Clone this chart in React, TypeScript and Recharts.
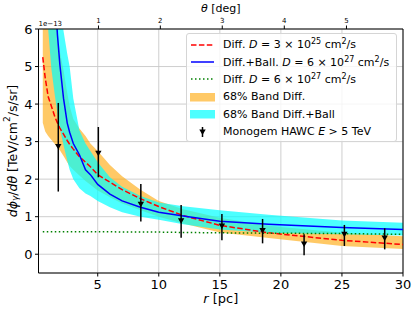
import React from 'react';
import {
  ComposedChart, Area, Line, Scatter, XAxis, YAxis, CartesianGrid,
  ErrorBar, Legend, ReferenceLine,
} from 'recharts';

// radial distance grid of the model curves [pc]
const rPc = [0.5, 0.7, 0.94, 1.2, 1.5, 1.7, 1.9, 2.2, 2.5, 2.7, 3, 3.5, 4, 4.4, 5, 6, 7, 8.5, 10, 12, 15, 19, 25, 30];

// model profiles, in units of 1e-13 TeV/cm2/s/sr
const diffSlow = [5.25, 4.7, 4.2, 3.95, 3.65, 3.5, 3.36, 3.2, 3.03, 2.93, 2.8, 2.6, 2.45, 2.33, 2.12, 1.92, 1.72, 1.48, 1.27, 1.03, 0.77, 0.57, 0.37, 0.26];
const diffBall = [null, null, null, null, 6.9, 5.85, 5.05, 4.15, 3.5, 3.25, 2.95, 2.65, 2.25, 2.12, 1.86, 1.6, 1.42, 1.25, 1.12, 1.02, 0.88, 0.8, 0.71, 0.66];
const diffFast = [0.6, 0.6, 0.6, 0.6, 0.6, 0.6, 0.6, 0.6, 0.6, 0.6, 0.6, 0.6, 0.6, 0.6, 0.6, 0.6, 0.59, 0.59, 0.59, 0.58, 0.57, 0.56, 0.55, 0.53];

// 68% bands
const diffLow = [3.5, 3.27, 3.15, 3.05, 2.93, 2.84, 2.77, 2.62, 2.45, 2.35, 2.25, 2.1, 1.95, 1.85, 1.7, 1.52, 1.35, 1.17, 1.0, 0.82, 0.58, 0.43, 0.22, 0.14];
const diffHigh = [12, 10, 8.5, 7.6, 6.7, 5.95, 5.4, 4.9, 4.3, 3.95, 3.6, 3.35, 3.15, 2.95, 2.75, 2.38, 2.08, 1.72, 1.42, 1.2, 0.97, 0.76, 0.57, 0.48];
const ballLow = [13, 8.5, 6.0, 4.95, 4.2, 3.75, 3.35, 2.9, 2.5, 2.25, 2.0, 1.76, 1.62, 1.55, 1.42, 1.25, 1.12, 1.0, 0.92, 0.8, 0.66, 0.57, 0.53, 0.5];
const ballHigh = [18, 14, 11, 9.5, 8.2, 7.2, 6.6, 5.95, 5.35, 5.0, 4.15, 3.3, 2.95, 2.75, 2.45, 2.05, 1.8, 1.55, 1.38, 1.28, 1.17, 1.05, 0.9, 0.84];

// Monogem HAWC E > 5 TeV
const hawcR = [1.77, 5.05, 8.53, 11.83, 15.17, 18.5, 21.9, 25.2, 28.5];
const hawcFlux = [2.87, 2.69, 1.33, 0.89, 0.75, 0.63, 0.27, 0.53, 0.43];
const hawcErrLow = [1.2, 0.64, 0.46, 0.45, 0.38, 0.34, 0.3, 0.31, 0.3];
const hawcErrHigh = [1.16, 0.7, 0.54, 0.42, 0.32, 0.31, 0.26, 0.25, 0.26];

// axes
const rTicks = [5, 10, 15, 20, 25, 30];
const fluxTicks = [0, 1, 2, 3, 4, 5, 6];
const thetaDeg = [1, 2, 3, 4, 5];
const distancePc = 290;

const FONT = 'DejaVu Sans';

const curveData = rPc.map((r, i) => ({
  r,
  slow: diffSlow[i],
  ball: diffBall[i],
  fast: diffFast[i],
  slowBand: [diffLow[i], diffHigh[i]],
  ballBand: [ballLow[i], ballHigh[i]],
}));

const hawcData = hawcR.map((r, i) => ({
  r,
  flux: hawcFlux[i],
  err: [hawcErrLow[i], hawcErrHigh[i]],
}));

const toR = (deg) => distancePc * Math.tan((deg * Math.PI) / 180);
const toDeg = (r) => Math.round((Math.atan(r / distancePc) * 180) / Math.PI);

// 'v' marker
const DownTri = ({ cx, cy }) => (
  <path d={`M${cx - 3.2},${cy - 2.6} L${cx + 3.2},${cy - 2.6} L${cx},${cy + 3} Z`} fill="#000" />
);

const bottomTitle = ({ viewBox }) => {
  const cx = viewBox.x + viewBox.width / 2;
  return (
    <text x={cx} y={viewBox.y + 30} textAnchor="middle" fontSize={13} fontFamily={FONT} fill="#000">
      <tspan fontStyle="italic">r</tspan> [pc]
    </text>
  );
};

const topTitle = ({ viewBox }) => {
  const cx = viewBox.x + viewBox.width / 2;
  return (
    <text x={cx} y={viewBox.y + 12} textAnchor="middle" fontSize={11} fontFamily={FONT} fill="#000">
      <tspan fontStyle="italic">θ</tspan> [deg]
    </text>
  );
};

const leftTitle = ({ viewBox }) => {
  const cx = viewBox.x + 12;
  const cy = viewBox.y + viewBox.height / 2;
  return (
    <g>
      <text
        x={cx}
        y={cy}
        transform={`rotate(-90 ${cx} ${cy})`}
        textAnchor="middle"
        dominantBaseline="central"
        fontSize={12.5}
        fontFamily={FONT}
        fill="#000"
      >
        <tspan fontStyle="italic">dϕ</tspan>
        <tspan fontStyle="italic" fontSize={9} dy={3}>γ</tspan>
        <tspan dy={-3}>/</tspan>
        <tspan fontStyle="italic">dθ</tspan>
        <tspan>{' [TeV/cm'}</tspan>
        <tspan fontSize={9} dy={-5}>2</tspan>
        <tspan dy={5}>/s/sr]</tspan>
      </text>
      <text x={viewBox.x + viewBox.width} y={viewBox.y - 3} fontSize={7} fontFamily={FONT} fill="#000">
        1e−13
      </text>
    </g>
  );
};

const Sup = ({ children }) => (
  <span style={{ fontSize: 8, verticalAlign: 4, lineHeight: 0 }}>{children}</span>
);

const legendRows = [
  {
    kind: 'dash',
    color: '#ff0000',
    label: <>Diff. <i>D</i> = 3 × 10<Sup>25</Sup> cm<Sup>2</Sup>/s</>,
  },
  {
    kind: 'solid',
    color: '#0000ff',
    label: <>Diff.+Ball. <i>D</i> = 6 × 10<Sup>27</Sup> cm<Sup>2</Sup>/s</>,
  },
  {
    kind: 'dot',
    color: '#008000',
    label: <>Diff. <i>D</i> = 6 × 10<Sup>27</Sup> cm<Sup>2</Sup>/s</>,
  },
  { kind: 'patch', color: 'rgba(255,165,0,0.6)', label: <>68% Band Diff.</> },
  { kind: 'patch', color: 'rgba(0,255,255,0.7)', label: <>68% Band Diff.+Ball</> },
  { kind: 'err', color: '#000', label: <>Monogem HAWC <i>E</i> &gt; 5 TeV</> },
];

const Handle = ({ kind, color }) => (
  <svg width={25} height={14} style={{ display: 'block' }}>
    {kind === 'dash' && <line x1={1} y1={7} x2={24} y2={7} stroke={color} strokeWidth={1.5} strokeDasharray="5.5 2.4" />}
    {kind === 'solid' && <line x1={1} y1={7} x2={24} y2={7} stroke={color} strokeWidth={1.5} />}
    {kind === 'dot' && <line x1={1} y1={7} x2={24} y2={7} stroke={color} strokeWidth={1.5} strokeDasharray="1.5 2.5" />}
    {kind === 'patch' && <rect x={0} y={3} width={25} height={8.5} fill={color} />}
    {kind === 'err' && (
      <g>
        <line x1={12.5} y1={2} x2={12.5} y2={12} stroke="#000" strokeWidth={1.5} />
        <DownTri cx={12.5} cy={7} />
      </g>
    )}
  </svg>
);

const renderLegend = () => (
  <div
    style={{
      boxSizing: 'border-box',
      width: 211,
      height: 109,
      padding: '2px 0 0 3px',
      border: '1px solid #d5d5d5',
      borderRadius: 3,
      background: 'rgba(255,255,255,0.8)',
      fontFamily: FONT,
      fontSize: 11,
      color: '#000',
    }}
  >
    {legendRows.map((row, i) => (
      <div key={i} style={{ display: 'flex', alignItems: 'center', height: 17.4, whiteSpace: 'nowrap' }}>
        <Handle kind={row.kind} color={row.color} />
        <span style={{ marginLeft: 8 }}>{row.label}</span>
      </div>
    ))}
  </div>
);

export default function App() {
  return (
    <div style={{ position: 'absolute', left: 0, top: 0, background: '#fff' }}>
      <ComposedChart
        width={415}
        height={312}
        data={curveData}
        margin={{ top: 0, right: 12, bottom: 0, left: 0 }}
        style={{ fontFamily: FONT }}
      >
        <CartesianGrid xAxisId="b" yAxisId="l" stroke="#c8c8c8" strokeWidth={0.9} />
        <XAxis
          xAxisId="b"
          dataKey="r"
          type="number"
          domain={[0.15, 30]}
          allowDataOverflow
          ticks={rTicks}
          height={39}
          tickSize={3.5}
          tickMargin={3}
          tick={{ fill: '#000', fontSize: 13, fontFamily: FONT }}
          tickLine={{ stroke: '#000' }}
          axisLine={{ stroke: '#000' }}
          label={bottomTitle}
        />
        <XAxis
          xAxisId="t"
          orientation="top"
          dataKey="r"
          type="number"
          domain={[0.15, 30]}
          allowDataOverflow
          ticks={thetaDeg.map(toR)}
          tickFormatter={toDeg}
          height={29}
          tickSize={3.5}
          tickMargin={3}
          tick={{ fill: '#000', fontSize: 7, fontFamily: FONT }}
          tickLine={{ stroke: '#000' }}
          axisLine={{ stroke: '#000' }}
          label={topTitle}
        />
        <YAxis
          yAxisId="l"
          type="number"
          domain={[-0.5, 6]}
          allowDataOverflow
          ticks={fluxTicks}
          width={38.5}
          tickSize={3.5}
          tickMargin={2.5}
          tick={{ fill: '#000', fontSize: 13, fontFamily: FONT }}
          tickLine={{ stroke: '#000' }}
          axisLine={{ stroke: '#000' }}
          label={leftTitle}
        />
        <ReferenceLine xAxisId="b" yAxisId="l" x={30} stroke="#000" ifOverflow="visible" />

        <Area
          xAxisId="b"
          yAxisId="l"
          type="linear"
          dataKey="slowBand"
          stroke="none"
          fill="#ffa500"
          fillOpacity={0.6}
          isAnimationActive={false}
          activeDot={false}
        />
        <Area
          xAxisId="b"
          yAxisId="l"
          type="linear"
          dataKey="ballBand"
          stroke="none"
          fill="#00ffff"
          fillOpacity={0.7}
          isAnimationActive={false}
          activeDot={false}
        />
        <Line
          xAxisId="b"
          yAxisId="l"
          type="linear"
          dataKey="slow"
          stroke="#ff0000"
          strokeWidth={1.5}
          strokeDasharray="5.5 2.4"
          dot={false}
          activeDot={false}
          isAnimationActive={false}
        />
        <Line
          xAxisId="b"
          yAxisId="l"
          type="linear"
          dataKey="ball"
          stroke="#0000ff"
          strokeWidth={1.5}
          dot={false}
          activeDot={false}
          isAnimationActive={false}
        />
        <Line
          xAxisId="b"
          yAxisId="l"
          type="linear"
          dataKey="fast"
          stroke="#008000"
          strokeWidth={1.5}
          strokeDasharray="1.5 2.5"
          dot={false}
          activeDot={false}
          isAnimationActive={false}
        />
        <Scatter
          xAxisId="b"
          yAxisId="l"
          data={hawcData}
          dataKey="flux"
          shape={DownTri}
          isAnimationActive={false}
        >
          <ErrorBar dataKey="err" direction="y" width={0} stroke="#000" strokeWidth={1.5} />
        </Scatter>
        <Legend
          layout="vertical"
          align="center"
          verticalAlign="middle"
          content={renderLegend}
          wrapperStyle={{ left: 186, top: 33, width: 211, height: 109 }}
        />
      </ComposedChart>
    </div>
  );
}
